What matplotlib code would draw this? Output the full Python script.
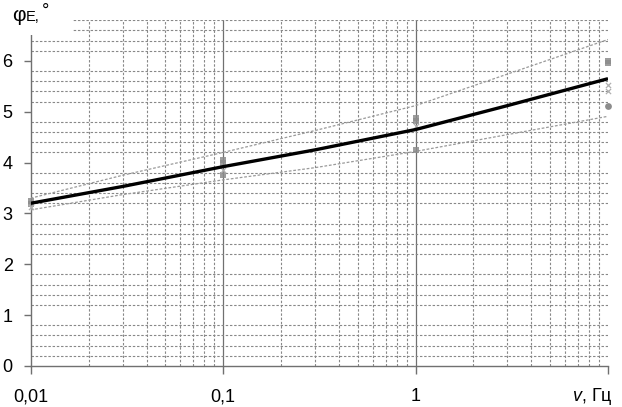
import matplotlib
matplotlib.use("Agg")
import matplotlib.pyplot as plt
from matplotlib.ticker import FixedLocator, MultipleLocator, NullFormatter

plt.rcParams['font.family'] = ['Liberation Sans', 'DejaVu Sans']
plt.rcParams['mathtext.fontset'] = 'custom'
plt.rcParams['mathtext.rm'] = 'Liberation Sans'
plt.rcParams['mathtext.it'] = 'Liberation Sans:italic'

# fitted curve and bounds
nu_curve = [0.01, 0.03, 0.1, 0.3, 1, 3, 10]
phi_fit = [3.20, 3.53, 3.92, 4.25, 4.65, 5.12, 5.65]
phi_upper = [3.30, 3.75, 4.20, 4.63, 5.12, 5.74, 6.42]
phi_lower = [3.07, 3.37, 3.66, 3.90, 4.22, 4.55, 4.91]

# measured points
sq_nu = [0.01, 0.01, 0.1, 0.1, 0.1, 1, 1, 1, 10, 10]
sq_phi = [3.25, 3.18, 4.05, 4.00, 3.75, 4.88, 4.82, 4.25, 6.00, 5.96]
cr_nu = [0.01, 0.1, 1, 10, 10]
cr_phi = [3.12, 3.85, 4.72, 5.52, 5.40]
ci_nu = [10]
ci_phi = [5.12]

xticks = [0.01, 0.1, 1, 10]
xticklabels = ["0,01", "0,1", "1", ""]
yticks = [0, 1, 2, 3, 4, 5, 6]

fig = plt.figure(figsize=(6.22, 4.07), dpi=100)
W, H = 622, 407
x0, x1 = 30.7, 608
y0, y1 = 366, 20.2
ax = fig.add_axes([x0 / W, 1 - y0 / H, (x1 - x0) / W, (y0 - y1) / H])

ax.set_xscale('log')
ax.set_xlim(0.01, 10)
ax.set_ylim(0, 6.8)

ax.xaxis.set_major_locator(FixedLocator(xticks))
ax.set_xticklabels(xticklabels)
ax.xaxis.set_minor_locator(FixedLocator([m * d for d in [0.01, 0.1, 1] for m in range(2, 10)]))
ax.xaxis.set_minor_formatter(NullFormatter())
ax.yaxis.set_major_locator(FixedLocator(yticks))
ax.yaxis.set_minor_locator(MultipleLocator(0.2))

ax.grid(which='major', axis='both', color='#707070', lw=0.9, ls='-')
ax.grid(which='minor', axis='both', color='#888888', lw=0.8, ls=(0, (2.2, 1.6)))
for t in ax.xaxis.get_major_ticks():
    if t.get_loc() in (0.01, 10):
        t.gridline.set_visible(False)
for t in ax.yaxis.get_major_ticks():
    if t.get_loc() == 0:
        t.gridline.set_visible(False)

for s in ['top', 'right']:
    ax.spines[s].set_visible(False)
for s in ['left', 'bottom']:
    ax.spines[s].set_color('#707070')
    ax.spines[s].set_linewidth(1.0)

ax.tick_params(which='minor', length=0)
ax.tick_params(axis='y', which='major', length=5, width=1, color='#707070',
               labelsize=13, pad=8)
ax.tick_params(axis='x', which='major', length=6, width=1, color='#707070',
               labelsize=13, pad=10)
ax.set_axisbelow(True)

ax.plot(nu_curve, phi_upper, color='#9a9a9a', lw=0.9, ls=(0, (2.2, 1.4)), zorder=3)
ax.plot(nu_curve, phi_lower, color='#9a9a9a', lw=0.9, ls=(0, (2.2, 1.4)), zorder=3)
ax.scatter(sq_nu, sq_phi, marker='s', s=24, color='#8c8c8c', alpha=0.85,
           zorder=4, clip_on=False, linewidths=0)
ax.scatter(cr_nu, cr_phi, marker='x', s=14, color='#b0b0b0', linewidths=0.9,
           zorder=4, clip_on=False)
ax.scatter(ci_nu, ci_phi, marker='o', s=24, color='#8c8c8c', zorder=4,
           clip_on=False, linewidths=0)
ax.plot(nu_curve, phi_fit, color='black', lw=2.4, zorder=5, solid_capstyle='butt')

# white area behind the y-axis title (covers grid as in reference)
fig.patches.append(plt.Rectangle((0, 1 - 35 / H), 72 / W, 35 / H,
                                 transform=fig.transFigure, facecolor='white',
                                 edgecolor='none', zorder=2))
fig.text(12 / W, 1 - 21 / H, "φ", fontsize=15, ha='left', va='baseline', zorder=3)
fig.text(26 / W, 1 - 21 / H, "E,", fontsize=10.5, ha='left', va='baseline', zorder=3)
fig.text(42 / W, 1 - 16 / H, "°", fontsize=13, ha='left', va='baseline', zorder=3)

fig.text(613 / W, 1 - 401 / H, r"$\it{v}$, Гц", fontsize=13, ha='right',
         va='baseline')

fig.savefig("out.png", dpi=100, facecolor='white')
